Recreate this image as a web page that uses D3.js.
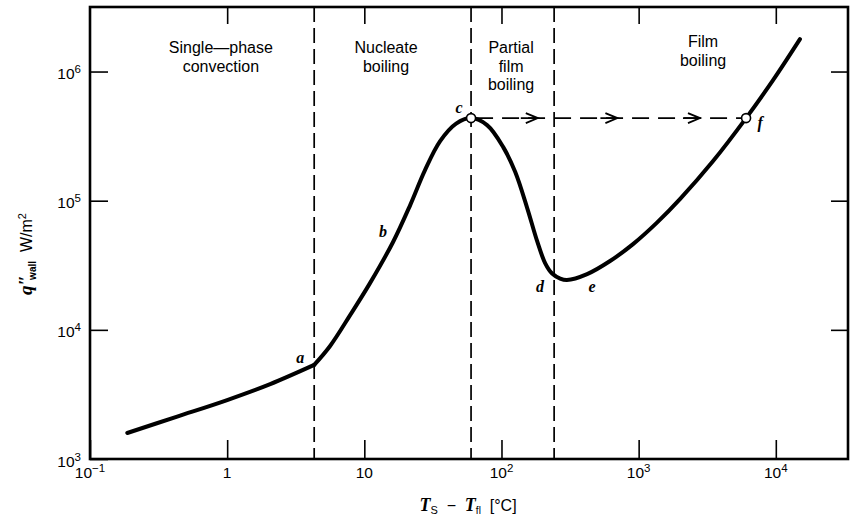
<!DOCTYPE html>
<html>
<head>
<meta charset="utf-8">
<script src="https://cdn.jsdelivr.net/npm/d3@7"></script>
<style>
body { margin: 0; background: #fff; }
text { font-family: "Liberation Sans", Arial, Helvetica, sans-serif; fill: #000; }
.serif { font-family: "Liberation Serif", "Times New Roman", serif; }
</style>
</head>
<body>
<div id="chart"></div>
<script>
// boiling curve: wall heat flux against wall superheat, log-log
var deltaT = [0.187, 0.432, 1.0, 2.06, 4.31,
  5.63, 7.88, 11.0, 16.2, 21.6, 27.7, 35.7, 46.7, 60,
  78.5, 103, 126, 154, 182, 208, 234, 268, 300,
  421, 619, 910, 1360, 2000, 3490, 6070, 9550, 15000];
var qWall = [1590, 2130, 2860, 3800, 5350,
  7500, 13000, 23000, 47900, 92500, 172500, 289000, 395000, 436000,
  385000, 260000, 166500, 87700, 48600, 32900, 27300, 24950, 24300,
  27000, 34100, 46100, 67600, 102800, 202800, 436000, 857000, 1780000];
var kinkIndex = 4; // point a, the curve has a corner there

// regime boundaries (dashed verticals) and the regime names
var regionBounds = [4.31, 60, 242];
var regionNames = [["Single\u2014phase", "convection"], ["Nucleate", "boiling"], ["Partial", "film", "boiling"], ["Film", "boiling"]];
var regionX = [0.9, 14.4, 117.5, 2950];

// lettered points on the curve
var pointNames = ["a", "b", "c", "d", "e", "f"];
var pointT = [4.31, 16.2, 60, 246, 421, 6070];
var pointQ = [5350, 47900, 436000, 25600, 27000, 436000];

// burnout jump c -> f
var jumpFrom = [60, 436000];
var jumpTo = [6070, 436000];
var arrowT = [184, 700, 2800];

var xTicks = [0.1, 1, 10, 100, 1000, 10000];
var xTickBase = ["10", "1", "10", "10", "10", "10"];
var xTickExp = ["\u22121", "", "", "2", "3", "4"];
var yTicks = [1e3, 1e4, 1e5, 1e6];
var yTickExp = ["3", "4", "5", "6"];

var margin = {top: 7, right: 3, bottom: 62, left: 90},
  width = 851 - margin.left - margin.right,
  height = 521 - margin.top - margin.bottom;

var svg = d3.select("#chart")
.append("svg")
  .attr("width", width + margin.left + margin.right)
  .attr("height", height + margin.top + margin.bottom)
.append("g")
  .attr("transform", "translate(" + margin.left + "," + margin.top + ")");

var x = d3.scaleLog().domain([0.1, 33600]).range([0, width]);
var y = d3.scaleLog().domain([1000, 3.16e6]).range([height, 0]);

// ticks on all four sides, pointing inward
function noDomain(g) { g.select(".domain").remove(); g.selectAll("line").attr("stroke", "#000").attr("stroke-width", 1.6); }
svg.append("g").attr("transform", "translate(0," + height + ")")
  .call(d3.axisBottom(x).tickValues(xTicks).tickSize(-19).tickFormat("")).call(noDomain);
svg.append("g")
  .call(d3.axisTop(x).tickValues(xTicks.slice(1)).tickSize(-17).tickFormat("")).call(noDomain);
svg.append("g")
  .call(d3.axisLeft(y).tickValues(yTicks).tickSize(-18).tickFormat("")).call(noDomain);
svg.append("g").attr("transform", "translate(" + width + ",0)")
  .call(d3.axisRight(y).tickValues(yTicks.slice(1)).tickSize(-17).tickFormat("")).call(noDomain);

// frame
svg.append("rect")
  .attr("width", width).attr("height", height)
  .attr("fill", "none").attr("stroke", "#000").attr("stroke-width", 2.6);

// tick labels
xTicks.forEach(function(v, i) {
  var t = svg.append("text")
    .attr("x", x(v)).attr("y", height + 19)
    .attr("text-anchor", "middle").attr("font-size", "15.5px");
  t.append("tspan").text(xTickBase[i]);
  if (xTickExp[i]) t.append("tspan").attr("dy", -6).attr("font-size", "11.5px").text(xTickExp[i]);
});
yTicks.forEach(function(v, i) {
  var t = svg.append("text")
    .attr("x", -9).attr("y", y(v) + 7.5)
    .attr("text-anchor", "end").attr("font-size", "15.5px");
  t.append("tspan").text("10");
  t.append("tspan").attr("dy", -6).attr("font-size", "11.5px").text(yTickExp[i]);
});

// regime boundaries
svg.selectAll(".bound")
  .data(regionBounds)
  .enter()
  .append("line")
    .attr("x1", function(d) { return x(d); })
    .attr("x2", function(d) { return x(d); })
    .attr("y1", 0).attr("y2", height)
    .attr("stroke", "#000").attr("stroke-width", 1.7)
    .attr("stroke-dasharray", "15,6");

// regime names
var regionTop = [46, 46, 46, 40];
regionNames.forEach(function(lines, i) {
  var t = svg.append("text")
    .attr("text-anchor", "middle").attr("font-size", "16px");
  lines.forEach(function(s, j) {
    t.append("tspan").attr("x", x(regionX[i])).attr("y", regionTop[i] + j * 18.5).text(s);
  });
});

// jump from c to f
var jy = y(jumpFrom[1]);
svg.append("line")
  .attr("x1", x(jumpFrom[0]) + 5).attr("x2", x(jumpTo[0]) - 5)
  .attr("y1", jy).attr("y2", jy)
  .attr("stroke", "#000").attr("stroke-width", 1.7)
  .attr("stroke-dasharray", "17,9");
svg.selectAll(".arrow")
  .data(arrowT)
  .enter()
  .append("path")
    .attr("d", function(d) {
      var tx = x(d);
      return "M" + (tx - 17) + "," + jy + "H" + tx + "M" + (tx - 12) + "," + (jy - 5) + "L" + tx + "," + jy + "L" + (tx - 12) + "," + (jy + 5);
    })
    .attr("fill", "none").attr("stroke", "#000").attr("stroke-width", 1.8);

// the curve, drawn in two pieces so the corner at a stays sharp
var pts = deltaT.map(function(d, i) { return [d, qWall[i]]; });
var line = d3.line()
  .x(function(d) { return x(d[0]); })
  .y(function(d) { return y(d[1]); })
  .curve(d3.curveCatmullRom.alpha(0.5));
[pts.slice(0, kinkIndex + 1), pts.slice(kinkIndex)].forEach(function(seg) {
  svg.append("path")
    .attr("d", line(seg))
    .attr("fill", "none").attr("stroke", "#000")
    .attr("stroke-width", 4).attr("stroke-linecap", "round");
});

// open circles at c and f
svg.selectAll(".ring")
  .data([jumpFrom, jumpTo])
  .enter()
  .append("circle")
    .attr("cx", function(d) { return x(d[0]); })
    .attr("cy", function(d) { return y(d[1]); })
    .attr("r", 4.5)
    .attr("fill", "#fff").attr("stroke", "#000").attr("stroke-width", 1.6);

// point letters
var labelOffset = [[-14, -2], [-10, -5], [-12, -5], [-15, 15], [5, 18], [14, 10]];
pointNames.forEach(function(s, i) {
  svg.append("text")
    .attr("class", "serif")
    .attr("x", x(pointT[i]) + labelOffset[i][0])
    .attr("y", y(pointQ[i]) + labelOffset[i][1])
    .attr("text-anchor", "middle")
    .attr("font-size", "16px").attr("font-style", "italic").attr("font-weight", "bold")
    .text(s);
});

// axis titles
var xt = svg.append("text")
  .attr("x", x(57)).attr("y", height + 52)
  .attr("text-anchor", "middle").attr("font-size", "16px");
xt.append("tspan").attr("class", "serif").attr("font-style", "italic").attr("font-weight", "bold").attr("font-size", "18px").text("T");
xt.append("tspan").attr("dy", 3).attr("font-size", "11px").text("S");
xt.append("tspan").attr("dy", -3).text("\u00a0\u00a0\u2212\u00a0\u00a0");
xt.append("tspan").attr("class", "serif").attr("font-style", "italic").attr("font-weight", "bold").attr("font-size", "18px").text("T");
xt.append("tspan").attr("dy", 3).attr("font-size", "10px").text("fl");
xt.append("tspan").attr("dy", -3).text("\u00a0\u00a0[\u00b0C]");

var yt = svg.append("text")
  .attr("transform", "translate(" + (32 - margin.left) + "," + (254 - margin.top) + ") rotate(-90)")
  .attr("text-anchor", "middle").attr("font-size", "16px");
yt.append("tspan").attr("class", "serif").attr("font-style", "italic").attr("font-weight", "bold").attr("font-size", "19px").text("q\u2033");
yt.append("tspan").attr("dx", -5).attr("dy", 4).attr("font-size", "10px").attr("font-weight", "bold").text("wall");
yt.append("tspan").attr("dy", -4).text("\u00a0\u00a0W/m");
yt.append("tspan").attr("dy", -6).attr("font-size", "11px").text("2");
</script>
</body>
</html>
